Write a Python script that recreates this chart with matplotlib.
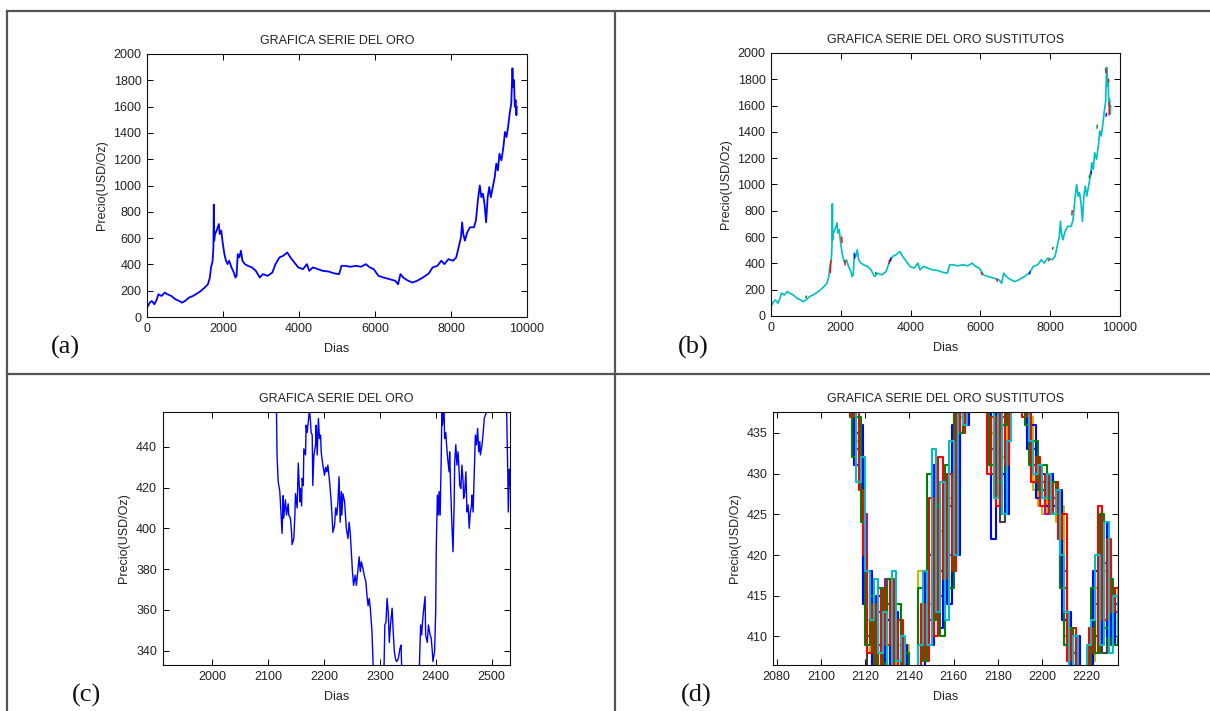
import numpy as np
import matplotlib
matplotlib.use("Agg")
import matplotlib.pyplot as plt
from matplotlib.lines import Line2D

plt.rcParams['font.family'] = ['Liberation Sans', 'DejaVu Sans']

# --- DATOS ---
# (a) serie completa del oro
dias_a = [0, 72, 124, 196, 259, 300, 383, 465, 538, 641, 744, 848, 920, 1003, 1106,
          1210, 1313, 1417, 1520, 1603, 1654, 1685, 1727, 1747, 1758, 1768, 1789, 1830,
          1861, 1892, 1913, 1954, 1996, 2037, 2078, 2120, 2161, 2223, 2285, 2326, 2357,
          2388, 2430, 2471, 2512, 2574, 2657, 2761, 2864, 2968, 3050, 3174, 3298, 3381,
          3485, 3588, 3691, 3774, 3878, 3981, 4105, 4208, 4270, 4363, 4498, 4622, 4777,
          4932, 5056, 5118, 5222, 5346, 5501, 5635, 5759, 5863, 5966, 6090, 6225, 6380,
          6535, 6607, 6669, 6742, 6845, 6980, 7104, 7259, 7414, 7517, 7641, 7745, 7827,
          7931, 8055, 8138, 8220, 8262, 8293, 8324, 8365, 8427, 8500, 8603, 8655, 8707,
          8758, 8800, 8841, 8882, 8924, 8965, 9006, 9048, 9100, 9151, 9192, 9234, 9275,
          9327, 9379, 9420, 9461, 9503, 9544, 9586, 9617, 9637, 9658, 9679, 9699, 9720, 9731]
precio_a = [71, 109, 122, 97, 135, 173, 160, 186, 173, 160, 135, 122, 109, 122, 148,
            160, 178, 198, 224, 249, 300, 377, 428, 529, 855, 580, 631, 656,
            682, 707, 631, 657, 555, 478, 428, 402, 428, 377, 338, 300, 313,
            478, 453, 504, 428, 402, 389, 377, 351, 300, 326, 313, 338, 402,
            453, 466, 491, 453, 415, 377, 364, 402, 351, 377, 364, 351, 346,
            331, 326, 389, 389, 382, 389, 382, 402, 377, 364, 313, 300, 288,
            275, 249, 326, 300, 280, 262, 275, 300, 331, 377, 389, 428, 402,
            440, 428, 453, 555, 606, 720, 631, 580, 644, 682, 682, 733, 886,
            1000, 911, 937, 860, 720, 911, 988, 911, 988, 1064, 1166, 1115, 1242,
            1191, 1293, 1407, 1369, 1446, 1547, 1624, 1891, 1751, 1802, 1598, 1649, 1535, 1598]

# (b) fragmentos visibles de los sustitutos (rojo, azul, verde)
dias_rojo = [1700, 1715, np.nan, 2025, 2035, np.nan, 2110, 2125, np.nan, 3380, 3395, np.nan,
             6030, 6045, np.nan, 6470, 6480, np.nan, 7960, 7975, np.nan, 8620, 8630, np.nan,
             9590, 9600, np.nan, 9670, 9680, np.nan, 9685, 9695]
precio_rojo = [330, 420, np.nan, 600, 560, np.nan, 420, 390, np.nan, 400, 425, np.nan,
               330, 315, np.nan, 280, 265, np.nan, 420, 430, np.nan, 770, 800, np.nan,
               1880, 1850, np.nan, 1800, 1780, np.nan, 1530, 1620]
dias_azul = [2390, 2400, np.nan, 3420, 3430, np.nan, 7410, 7420, np.nan, 9170, 9180, np.nan, 9600, 9610]
precio_azul = [470, 440, np.nan, 420, 440, np.nan, 320, 335, np.nan, 1080, 1100, np.nan, 1520, 1540]
dias_verde = [1000, 1010, np.nan, 3000, 3010, np.nan, 8070, 8080, np.nan, 9120, 9130, np.nan, 9340, 9350]
precio_verde = [140, 150, np.nan, 330, 320, np.nan, 510, 520, np.nan, 1055, 1070, np.nan, 1430, 1450]

# (c) detalle de la serie
dias_c = [1911, 2050, 2112, 2115, 2116, 2118, 2121, 2124, 2125, 2127, 2128, 2131, 2133, 2136,
          2137, 2140, 2142, 2143, 2146, 2148, 2149, 2152, 2154, 2157, 2158, 2160, 2161, 2163,
          2164, 2167, 2168, 2170, 2173, 2174, 2176, 2177, 2179, 2180, 2182, 2185, 2186, 2188,
          2190, 2192, 2194, 2195, 2198, 2201, 2203, 2205, 2207, 2210, 2213, 2215, 2216, 2219,
          2221, 2223, 2225, 2227, 2229, 2231, 2232, 2234, 2237, 2240, 2243, 2245, 2247, 2249,
          2251, 2253, 2256, 2258, 2261, 2263, 2265, 2267, 2270, 2272, 2275, 2277, 2279, 2281,
          2283, 2286, 2288, 2291, 2300, 2307, 2309, 2311, 2313, 2315, 2317, 2319, 2322, 2324,
          2326, 2328, 2330, 2333, 2336, 2338, 2339, 2341, 2355, 2370, 2373, 2375, 2376, 2378,
          2381, 2382, 2385, 2387, 2390, 2392, 2394, 2395, 2398, 2400, 2401, 2403, 2405, 2406,
          2408, 2410, 2411, 2412, 2415, 2416, 2418, 2420, 2422, 2424, 2425, 2427, 2429, 2431,
          2433, 2434, 2436, 2438, 2440, 2442, 2443, 2445, 2447, 2449, 2450, 2452, 2454, 2456,
          2458, 2460, 2462, 2464, 2465, 2467, 2469, 2471, 2473, 2475, 2477, 2479, 2480, 2483,
          2485, 2487, 2489, 2491, 2493, 2510, 2526, 2527, 2529, 2530, 2532, 2533]
precio_c = [640, 500, 470, 458, 436, 423, 418, 403, 397.5, 416, 405, 414, 406.5, 412,
            406.5, 405, 398, 392, 395, 406.5, 417, 410, 432, 413, 419.6, 411, 424.5, 421,
            439, 436, 450.6, 447, 455.5, 458, 452, 447, 445.7, 421, 436, 441, 450.6, 436,
            453.9, 444, 445.7, 437.5, 431, 426, 430, 427.7, 431, 423, 413, 403, 398, 401.6,
            410, 406.5, 413, 425.3, 403, 418, 406.5, 417, 413, 400, 395, 403, 398, 388.5,
            378.7, 372, 377, 372, 380, 386, 378.7, 383.6, 380, 377, 373.8, 367, 362, 365.6,
            360.8, 349, 333, 325, 315, 325, 352.6, 354, 365.6, 359, 344, 352.6, 360.8, 349,
            339.5, 336, 334.6, 336, 341, 342.7, 333, 325, 315, 325, 352.6, 347.7, 352.6, 359,
            366.5, 347.7, 344, 352.6, 347.7, 346, 339.5, 334.6, 339.5, 359, 390, 416.3, 406.5, 418,
            406.5, 436, 457, 450.6, 458, 444, 447, 439, 432.6, 427.7, 437.5, 418, 401.6, 388.5,
            411.4, 432.6, 441, 431, 437.5, 427.7, 421, 419.6, 431, 423, 414.7, 418, 427.7, 408,
            411.4, 400, 408, 411, 416.3, 408, 426, 445.7, 441, 449, 437.5, 442.5, 436, 441,
            447, 454, 455.5, 457, 462, 480, 462, 457, 427.7, 408, 429, 421]

# (d) sustitutos en el intervalo 2112-2235 (dias pares e impares)
sust_azul = [445, 440, 431, 436, 414, 418, 405, 415, 407, 412, 404, 413, 406, 409, 400, 400,
             400, 405, 418, 409, 431, 411, 428, 414, 436, 420, 439, 436, 445, 445, 445, 445,
             439, 422, 438, 430, 425, 445, 445, 445, 440, 433, 436, 427, 430, 426, 430, 426,
             428, 412, 413, 405, 410, 400, 400, 406, 418, 409, 424, 410, 416, 409]
sust_verde = [445, 432, 437, 424, 409, 415, 406, 416, 405, 417, 407, 414, 404, 408, 400, 400,
              416, 407, 430, 412, 426, 410, 431, 416, 439, 435, 440, 438, 445, 445, 445, 445,
              431, 439, 429, 436, 440, 445, 445, 445, 436, 431, 434, 428, 431, 427, 429, 425,
              416, 409, 411, 405, 400, 400, 405, 416, 408, 425, 411, 417, 409, 412]
sust_rojo = [445, 437, 438, 428, 420, 408, 414, 404, 416, 409, 417, 405, 412, 404, 400, 400,
             400, 414, 407, 427, 410, 432, 417, 430, 418, 438, 435, 441, 445, 445, 445, 445,
             430, 437, 426, 440, 431, 445, 445, 445, 437, 438, 429, 432, 426, 430, 425, 429,
             422, 425, 407, 411, 404, 400, 400, 411, 408, 426, 412, 422, 413, 416]
sust_cian = [445, 440, 429, 432, 418, 412, 417, 408, 413, 404, 418, 407, 410, 403, 400, 400,
             409, 418, 409, 433, 413, 429, 412, 434, 420, 441, 436, 439, 445, 445, 445, 445,
             438, 427, 440, 425, 434, 445, 445, 445, 441, 434, 430, 431, 427, 430, 425, 428,
             420, 413, 406, 410, 400, 400, 409, 412, 420, 409, 424, 408, 415, 410]
sust_magenta = [445, 439, 433, 430, 425, 410, 406, 413, 408, 417, 404, 410, 407, 405, 400, 400,
                400, 408, 416, 412, 425, 415, 424, 420, 431, 428, 441, 437, 445, 445, 445, 445,
                441, 433, 428, 437, 432, 445, 445, 445, 439, 435, 431, 428, 429, 425, 428, 427,
                424, 418, 410, 408, 406, 400, 400, 404, 414, 412, 419, 414, 411, 413]
sust_amarillo = [445, 435, 434, 426, 412, 408, 411, 405, 409, 412, 405, 409, 406, 409, 400, 400,
                 418, 410, 414, 420, 417, 423, 415, 427, 425, 437, 439, 441, 445, 445, 445, 445,
                 435, 431, 436, 432, 438, 445, 445, 445, 439, 437, 428, 426, 425, 428, 426, 424,
                 426, 410, 409, 404, 400, 400, 407, 407, 416, 414, 418, 412, 416, 411]
sust_gris = [445, 441, 435, 433, 416, 406, 410, 409, 404, 414, 412, 408, 404, 408, 400, 400,
             400, 411, 410, 420, 428, 418, 430, 426, 428, 433, 438, 440, 445, 445, 445, 445,
             436, 430, 433, 424, 436, 445, 445, 445, 438, 436, 433, 430, 428, 427, 426, 429,
             426, 416, 408, 410, 405, 400, 400, 408, 410, 417, 408, 420, 409, 414]
dias_pares = np.arange(2112, 2235, 2)
dias_impares = np.arange(2113, 2236, 2)

titulo_oro = 'GRAFICA SERIE DEL ORO'
titulo_sust = 'GRAFICA SERIE DEL ORO SUSTITUTOS'

# --- FIGURA ---
fig = plt.figure(figsize=(12.1, 7.11), dpi=100)
W, H = 1210, 711

def caja(l, t, r, b):
    return [l / W, 1 - b / H, (r - l) / W, (b - t) / H]

txt = '#222222'
fs = 9

def estilo(ax, titulo):
    ax.tick_params(direction='in', top=True, right=True, length=4, width=0.7,
                   labelsize=fs, labelcolor=txt, pad=4)
    for s in ax.spines.values():
        s.set_linewidth(0.8)
        s.set_color('#111111')
    ax.set_title(titulo, fontsize=fs, color=txt, pad=7)
    ax.set_xlabel('Dias', fontsize=fs, color=txt, labelpad=6)
    ax.set_ylabel('Precio(USD/Oz)', fontsize=fs, color=txt, labelpad=4)

ax_a = fig.add_axes(caja(147, 54, 527, 317))
ax_a.plot(dias_a, precio_a, color='#0000ff', lw=1.3)
ax_a.set_xlim(0, 10000)
ax_a.set_ylim(0, 2000)
ax_a.set_xticks(range(0, 10001, 2000))
ax_a.set_yticks(range(0, 2001, 200))
estilo(ax_a, titulo_oro)

ax_b = fig.add_axes(caja(771, 53, 1120, 316))
ax_b.plot(dias_a, precio_a, color='#00bfbf', lw=1.2)
ax_b.plot(dias_rojo, precio_rojo, color='#ff0000', lw=1.0)
ax_b.plot(dias_azul, precio_azul, color='#0000ff', lw=1.0)
ax_b.plot(dias_verde, precio_verde, color='#008000', lw=1.0)
ax_b.set_xlim(0, 10000)
ax_b.set_ylim(0, 2000)
ax_b.set_xticks(range(0, 10001, 2000))
ax_b.set_yticks(range(0, 2001, 200))
estilo(ax_b, titulo_sust)

ax_c = fig.add_axes(caja(162.5, 411.7, 510, 665.3))
ax_c.plot(dias_c, precio_c, color='#0000ff', lw=1.0)
ax_c.set_xlim(1911, 2533)
ax_c.set_ylim(332.8, 457.2)
ax_c.set_xticks(range(2000, 2501, 100))
ax_c.set_yticks(range(340, 441, 20))
estilo(ax_c, titulo_oro)

ax_d = fig.add_axes(caja(773.3, 411.7, 1118.3, 665))
series_d = [(dias_pares, sust_gris, '#404040'), (dias_impares, sust_amarillo, '#bfbf00'),
            (dias_pares, sust_magenta, '#bf00bf'), (dias_pares, sust_azul, '#0000ff'),
            (dias_pares, sust_rojo, '#ff0000'), (dias_impares, sust_verde, '#008000'),
            (dias_impares, sust_cian, '#00bfbf')]
for d, v, c in series_d:
    ax_d.plot(d, v, color=c, lw=1.5, drawstyle='steps-mid')
ax_d.set_xlim(2078.5, 2234.3)
ax_d.set_ylim(406.5, 437.6)
ax_d.set_xticks(range(2080, 2221, 20))
ax_d.set_yticks(range(410, 436, 5))
estilo(ax_d, titulo_sust)

# etiquetas (a)-(d)
for x, y, s in [(65, 347, '(a)'), (693, 347, '(b)'), (87, 695, '(c)'), (696, 695, '(d)')]:
    fig.text(x / W, 1 - y / H, s, ha='center', va='center', fontsize=19,
             family='Liberation Serif', color='#111111')

# bordes de la tabla
gris = '#555555'
for xs, ys in [((7, W), (11, 11)), ((7, W), (374, 374)), ((7, 7), (11, H)), ((615, 615), (11, H))]:
    fig.add_artist(Line2D([x / W for x in xs], [1 - y / H for y in ys], color=gris, lw=1.6,
                          transform=fig.transFigure))

fig.savefig('out.png', dpi=100)
